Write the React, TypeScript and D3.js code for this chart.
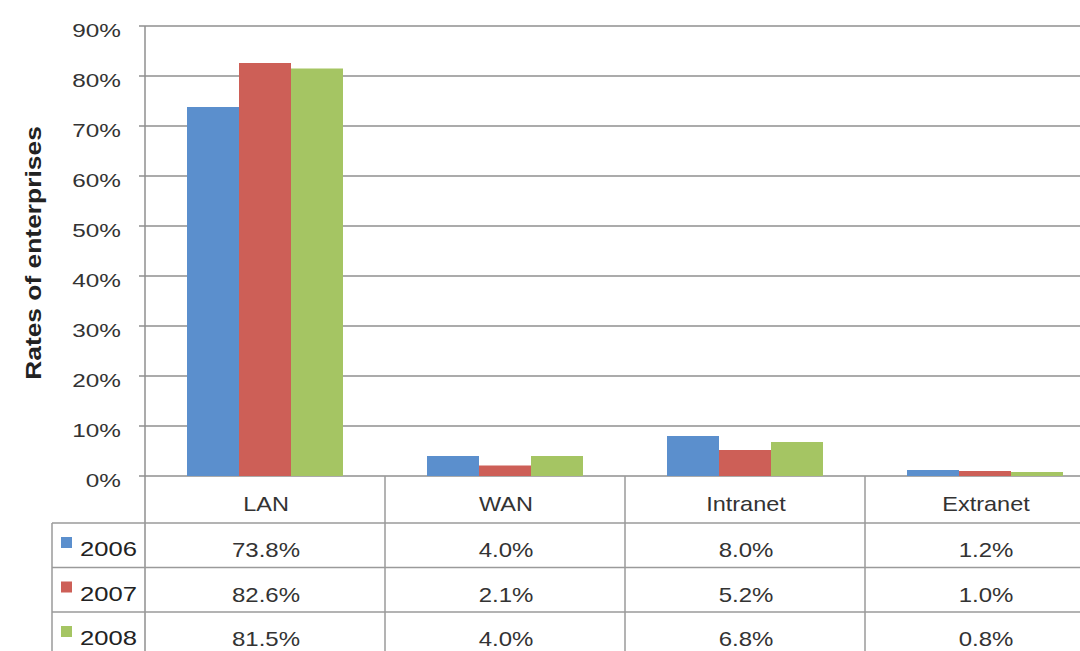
import * as d3 from "d3";
import type { ReactNode } from "react";

const categories = ["LAN", "WAN", "Intranet", "Extranet"];
const years = ["2006", "2007", "2008"];
const values2006 = [73.8, 4.0, 8.0, 1.2];
const values2007 = [82.6, 2.1, 5.2, 1.0];
const values2008 = [81.5, 4.0, 6.8, 0.8];
const yTicks = [0, 10, 20, 30, 40, 50, 60, 70, 80, 90];
const colors = ["#5b8fcd", "#cd5f57", "#a5c563"];

const series = [values2006, values2007, values2008];

// the source image is a bit stretched sideways, so text gets a scaleX
function Label(props: {
  x: number;
  y: number;
  sx: number;
  size: number;
  anchor?: string;
  rotate?: number;
  bold?: boolean;
  fill?: string;
  children: ReactNode;
}) {
  const { x, y, sx, size, anchor = "start", rotate = 0, bold, fill = "#333", children } = props;
  return (
    <text
      transform={`translate(${x},${y}) rotate(${rotate}) scale(${sx},1)`}
      textAnchor={anchor}
      fontSize={size}
      fontWeight={bold ? "bold" : "normal"}
      fill={fill}
    >
      {children}
    </text>
  );
}

export default function App() {
  const width = 1080;
  const height = 651;
  const left = 145;
  const right = 1105;
  const top = 26;
  const base = 476;
  const headerBottom = 523;
  const rowH = 44.5;
  const legendLeft = 52;

  const x = d3.scaleBand().domain(categories).range([left, right]);
  const inner = d3.scaleBand().domain(years).range([42, 198]);
  const y = d3.scaleLinear().domain([0, 90]).range([base, top]);

  const font = "'Liberation Sans', Arial, sans-serif";
  const gridColor = "#8f8f8f";
  const tableColor = "#9a9a9a";

  return (
    <svg
      width={width}
      height={height}
      style={{ position: "absolute", left: 0, top: 0, background: "#fff" }}
      fontFamily={font}
    >
      <rect width={width} height={height} fill="#fff" />
      {/* grid lines and ticks */}
      {yTicks.map((t) => (
        <g key={t}>
          <line x1={left - 6} x2={width} y1={y(t)} y2={y(t)} stroke={gridColor} strokeWidth={1.5} />
          <Label x={121} y={y(t) + 11} sx={1.28} size={19} anchor="end">
            {t}%
          </Label>
        </g>
      ))}
      <Label x={41} y={(top + base) / 2 + 2} sx={1.2} size={22} anchor="middle" rotate={-90} bold fill="#222">
        Rates of enterprises
      </Label>

      {/* bars */}
      {categories.map((c, i) => (
        <g key={c} transform={`translate(${x(c)},0)`}>
          {series.map((s, j) => (
            <rect
              key={years[j]}
              x={inner(years[j])}
              y={y(s[i])}
              width={inner.bandwidth()}
              height={base - y(s[i])}
              fill={colors[j]}
            />
          ))}
        </g>
      ))}

      {/* table lines */}
      <line x1={left} x2={left} y1={top} y2={height} stroke={gridColor} strokeWidth={1.5} />
      {categories.map((c) => (
        <line
          key={c}
          x1={(x(c) as number) + x.bandwidth()}
          x2={(x(c) as number) + x.bandwidth()}
          y1={base}
          y2={height}
          stroke={tableColor}
          strokeWidth={1.5}
        />
      ))}
      <line x1={legendLeft} x2={legendLeft} y1={headerBottom} y2={height} stroke={tableColor} strokeWidth={1.5} />
      {years.map((yr, j) => (
        <line
          key={yr}
          x1={legendLeft}
          x2={width}
          y1={headerBottom + j * rowH}
          y2={headerBottom + j * rowH}
          stroke={tableColor}
          strokeWidth={1.5}
        />
      ))}

      {/* category header */}
      {categories.map((c) => (
        <Label key={c} x={(x(c) as number) + x.bandwidth() / 2 + 1} y={511} sx={1.12} size={21} anchor="middle">
          {c}
        </Label>
      ))}

      {/* rows */}
      {years.map((yr, j) => {
        const rowTop = headerBottom + j * rowH;
        return (
          <g key={yr}>
            <rect x={61} y={rowTop + 14} width={11} height={11} fill={colors[j]} />
            <Label x={80} y={rowTop + 33} sx={1.22} size={21} fill="#222">
              {yr}
            </Label>
            {categories.map((c, i) => (
              <Label
                key={c}
                x={(x(c) as number) + x.bandwidth() / 2 + 1}
                y={rowTop + 34}
                sx={1.2}
                size={20}
                anchor="middle"
              >
                {series[j][i].toFixed(1)}%
              </Label>
            ))}
          </g>
        );
      })}
    </svg>
  );
}
